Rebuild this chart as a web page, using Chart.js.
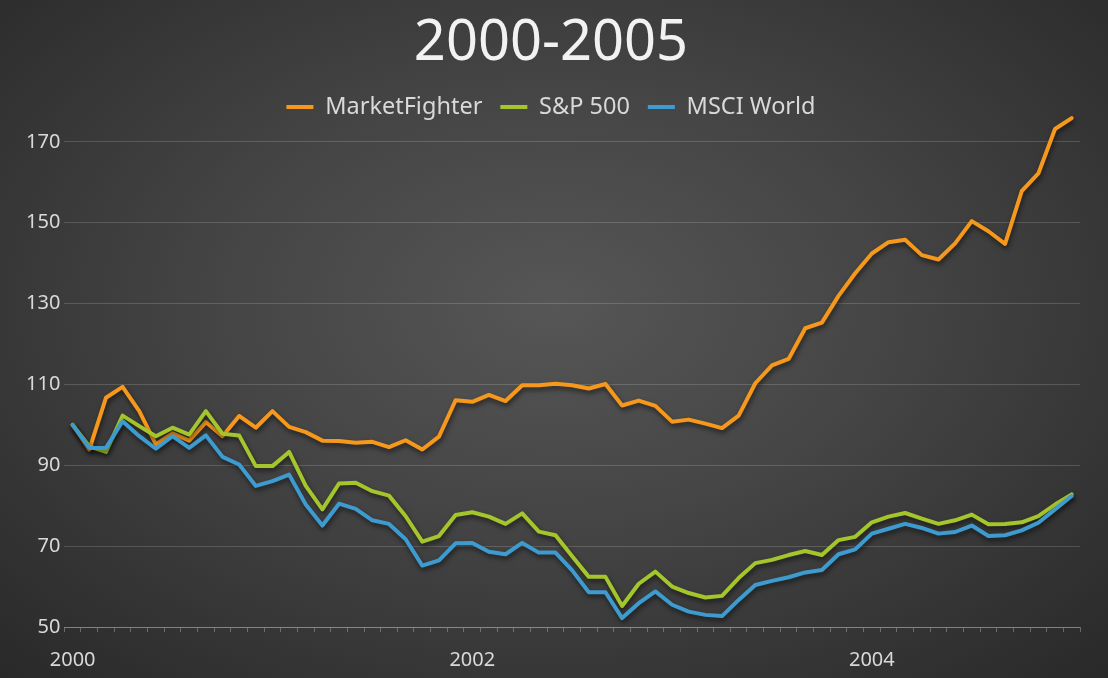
<!DOCTYPE html>
<html>
<head>
<meta charset="utf-8">
<title>2000-2005</title>
<script src="https://cdn.jsdelivr.net/npm/chart.js@4.4.1/dist/chart.umd.min.js"></script>
<style>
  html, body {
    margin: 0;
    padding: 0;
  }
  body {
    width: 1108px;
    height: 678px;
    overflow: hidden;
    background: radial-gradient(ellipse 75% 80% at 50% 45%, #565656 0%, #454545 40%, #333333 75%, #272727 100%);
  }
  #wrap {
    position: relative;
    width: 1108px;
    height: 678px;
  }
</style>
</head>
<body>
<div id="wrap"><canvas id="grafico"></canvas></div>
<script>
// months, Jan 2000 .. Jan 2005
const meses = [
  '2000-01','2000-02','2000-03','2000-04','2000-05','2000-06','2000-07','2000-08','2000-09','2000-10','2000-11','2000-12',
  '2001-01','2001-02','2001-03','2001-04','2001-05','2001-06','2001-07','2001-08','2001-09','2001-10','2001-11','2001-12',
  '2002-01','2002-02','2002-03','2002-04','2002-05','2002-06','2002-07','2002-08','2002-09','2002-10','2002-11','2002-12',
  '2003-01','2003-02','2003-03','2003-04','2003-05','2003-06','2003-07','2003-08','2003-09','2003-10','2003-11','2003-12',
  '2004-01','2004-02','2004-03','2004-04','2004-05','2004-06','2004-07','2004-08','2004-09','2004-10','2004-11','2004-12',
  '2005-01'
];

const marketFighter = [
  100, 93.9, 106.7, 109.4, 103.4, 95.2, 97.9, 96.1, 100.7, 97.2, 102.2, 99.3,
  103.4, 99.5, 98.2, 96.1, 96.0, 95.6, 95.8, 94.5, 96.2, 93.9, 97.1, 106.1,
  105.7, 107.4, 105.9, 109.8, 109.8, 110.2, 109.8, 109.0, 110.1, 104.8, 106.0, 104.7,
  100.8, 101.3, 100.3, 99.2, 102.3, 110.3, 114.7, 116.3, 123.9, 125.3, 131.9, 137.5,
  142.4, 145.2, 145.8, 142.0, 140.9, 144.9, 150.4, 147.9, 144.8, 157.8, 162.2, 173.2,
  175.9
];

const sp500 = [
  100, 94.7, 93.3, 102.3, 99.7, 97.2, 99.3, 97.6, 103.4, 97.8, 97.4, 89.8,
  89.8, 93.3, 84.9, 79.1, 85.5, 85.7, 83.6, 82.5, 77.4, 71.1, 72.5, 77.7,
  78.4, 77.3, 75.5, 78.1, 73.6, 72.7, 67.5, 62.4, 62.4, 55.2, 60.7, 63.7,
  60.0, 58.4, 57.3, 57.7, 62.1, 65.8, 66.6, 67.8, 68.8, 67.8, 71.5, 72.3,
  75.9, 77.3, 78.2, 76.8, 75.5, 76.4, 77.8, 75.4, 75.5, 75.9, 77.4, 80.3,
  82.8
];

const msciWorld = [
  100, 94.3, 94.3, 100.9, 97.2, 94.1, 97.2, 94.3, 97.4, 92.1, 90.2, 84.9,
  86.1, 87.7, 80.3, 75.1, 80.5, 79.2, 76.4, 75.5, 71.7, 65.2, 66.5, 70.7,
  70.8, 68.6, 68.0, 70.8, 68.4, 68.4, 64.0, 58.6, 58.6, 52.2, 55.9, 58.8,
  55.5, 53.8, 53.0, 52.7, 56.7, 60.4, 61.4, 62.3, 63.5, 64.1, 68.0, 69.2,
  73.1, 74.3, 75.5, 74.5, 73.1, 73.5, 75.1, 72.5, 72.7, 73.9, 75.8, 79.1,
  82.4
];

const anosEixo = ['2000', '2002', '2004'];
const ticksY = [50, 70, 90, 110, 130, 150, 170];

const fonte = "'Noto Sans', 'DejaVu Sans', sans-serif";

// sombra das linhas (como no Excel)
const sombra = {
  id: 'sombra',
  beforeDatasetsDraw(chart) {
    const ctx = chart.ctx;
    ctx.save();
    ctx.shadowColor = 'rgba(0, 0, 0, 0.55)';
    ctx.shadowBlur = 5;
    ctx.shadowOffsetX = 1;
    ctx.shadowOffsetY = 3;
  },
  afterDatasetsDraw(chart) {
    chart.ctx.restore();
  }
};

// a legenda ocupa menos altura, o grafico comeca logo abaixo do texto
const legendaCurta = {
  id: 'legendaCurta',
  beforeInit(chart) {
    const fitOriginal = chart.legend.fit;
    chart.legend.fit = function () {
      fitOriginal.bind(chart.legend)();
      this.height -= 7;
    };
  }
};

const ctx = document.getElementById('grafico');

new Chart(ctx, {
  type: 'line',
  data: {
    labels: meses,
    datasets: [{
      label: 'MarketFighter',
      data: marketFighter,
      borderColor: '#F6981C',
      backgroundColor: '#F6981C',
      borderWidth: 4,
      clip: false,
      order: 3
    }, {
      label: 'S&P 500',
      data: sp500,
      borderColor: '#A4C52B',
      backgroundColor: '#A4C52B',
      borderWidth: 4,
      clip: false,
      order: 2
    }, {
      label: 'MSCI World',
      data: msciWorld,
      borderColor: '#3E9BCF',
      backgroundColor: '#3E9BCF',
      borderWidth: 4,
      clip: false,
      order: 1
    }]
  },
  options: {
    responsive: true,
    maintainAspectRatio: false,
    animation: false,
    layout: {
      padding: { top: 0, left: 22, right: 28, bottom: -10 }
    },
    elements: {
      line: {
        tension: 0,
        borderJoinStyle: 'round',
        borderCapStyle: 'round'
      },
      point: { radius: 0, hoverRadius: 0 }
    },
    plugins: {
      title: {
        display: true,
        text: '2000-2005',
        color: '#F2F2F2',
        font: { family: fonte, size: 56, weight: 'normal' },
        padding: { top: 10, bottom: 0 }
      },
      legend: {
        display: true,
        labels: {
          color: '#D9D9D9',
          font: { family: fonte, size: 23.5 },
          usePointStyle: true,
          pointStyle: 'line',
          pointStyleWidth: 27,
          padding: 18,
          sort: (a, b) => a.datasetIndex - b.datasetIndex
        }
      },
      tooltip: { enabled: false }
    },
    scales: {
      x: {
        offset: true,
        grid: {
          offset: true,
          drawOnChartArea: false,
          drawTicks: true,
          tickLength: 5,
          color: 'rgba(255, 255, 255, 0.28)'
        },
        border: { display: true, color: 'rgba(255, 255, 255, 0.28)' },
        ticks: {
          autoSkip: false,
          maxRotation: 0,
          padding: 16,
          color: '#D9D9D9',
          font: { family: fonte, size: 20 },
          callback: function (valor, i) {
            const m = meses[i];
            const ano = m.slice(0, 4);
            return m.endsWith('-01') && anosEixo.includes(ano) ? ano : '';
          }
        }
      },
      y: {
        min: 50,
        max: 175,
        afterBuildTicks: (eixo) => {
          eixo.ticks = ticksY.map(v => ({ value: v }));
        },
        grid: {
          drawTicks: false,
          color: 'rgba(255, 255, 255, 0.16)'
        },
        border: { display: false },
        ticks: {
          padding: 4,
          color: '#D9D9D9',
          font: { family: fonte, size: 20 }
        }
      }
    }
  },
  plugins: [sombra, legendaCurta]
});
</script>
</body>
</html>
